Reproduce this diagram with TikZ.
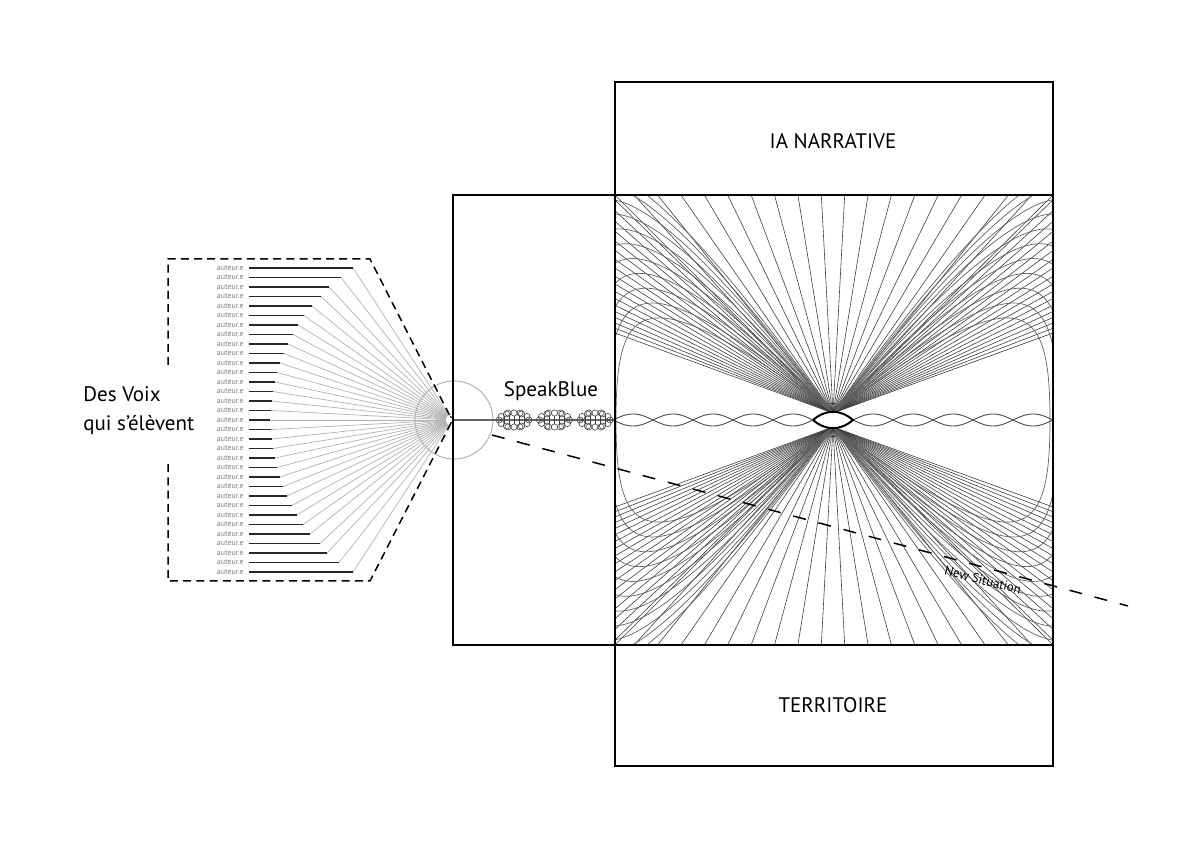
\documentclass[tikz,border=0pt]{standalone}
\usepackage{fontspec}
\setmainfont{PT Sans}
\begin{document}
\begin{tikzpicture}[x=0.5pt,y=-0.5pt,
  frame/.style={line width=0.6pt, draw=black},
  fanline/.style={line width=0.3pt, draw=black!75},
  arcline/.style={line width=0.35pt, draw=black!62},
  wave/.style={line width=0.45pt, draw=black!70},
  greyfan/.style={line width=0.35pt, draw=black!30},
  blackbar/.style={line width=0.8pt, draw=black!85},
  autlab/.style={text=black!50, font=\fontsize{3.9}{4}\selectfont, inner sep=0pt, anchor=east},
  dpoly/.style={line width=0.75pt, draw=black, dash pattern=on 4pt off 2.6pt},
  dline/.style={line width=0.75pt, draw=black, dash pattern=on 6.5pt off 6.5pt},
  bead/.style={line width=0.3pt, draw=black!75},
  lab/.style={font=\fontsize{10.5}{12}\selectfont, inner sep=0pt}]
\useasboundingbox (0,0) rectangle (1200,849);
\fill[white] (0,0) rectangle (1200,849);

% ---------- key points ----------
\coordinate (Ct) at (833,413);
\coordinate (Cb) at (833,427);
\coordinate (F) at (452,420);
\coordinate (ds) at (492,435);
\coordinate (de) at (1128,606);

% ---------- right diagram: fan lines ----------
\foreach \j in {0,...,8}{
  \pgfmathsetmacro{\dx}{11.7+23.4*\j}
  \draw[fanline] (Ct) -- ({833-\dx},195);
  \draw[fanline] (Ct) -- ({833+\dx},195);
  \draw[fanline] (Cb) -- ({833-\dx},645);
  \draw[fanline] (Cb) -- ({833+\dx},645);
}
\foreach \i in {0,...,17}{
  \pgfmathsetmacro{\yy}{333-(4.6*\i+0.19*\i*\i)}
  \pgfmathsetmacro{\yb}{840-\yy}
  \draw[fanline] (Ct) -- (615,\yy);
  \draw[fanline] (Ct) -- (1053,\yy);
  \draw[fanline] (Cb) -- (615,\yb);
  \draw[fanline] (Cb) -- (1053,\yb);
}
\draw[fanline] (Ct) -- (615,195);
\draw[fanline] (Ct) -- (1053,195);
\draw[fanline] (Cb) -- (615,645);
\draw[fanline] (Cb) -- (1053,645);

% ---------- right diagram: arcs ----------
\begin{scope}
\clip (615,195) rectangle (1053,645);
\foreach \k in {0,...,10}{
  \pgfmathsetmacro{\sx}{1+0.038*\k}
  \pgfmathsetmacro{\sy}{1+0.156*\k}
  \begin{scope}[shift={(Ct)}, xscale=\sx, yscale=\sy]
    \draw[arcline] (-217,7) .. controls (-217,-115) and (-190,-140) .. (0,0);
  \end{scope}
  \begin{scope}[shift={(Ct)}, xscale=-\sx, yscale=\sy]
    \draw[arcline] (-217,7) .. controls (-217,-115) and (-190,-140) .. (0,0);
  \end{scope}
  \begin{scope}[shift={(Cb)}, xscale=\sx, yscale=-\sy]
    \draw[arcline] (-217,7) .. controls (-217,-115) and (-190,-140) .. (0,0);
  \end{scope}
  \begin{scope}[shift={(Cb)}, xscale=-\sx, yscale=-\sy]
    \draw[arcline] (-217,7) .. controls (-217,-115) and (-190,-140) .. (0,0);
  \end{scope}
}
% waves
\draw[wave] plot[domain=615:813, samples=160] (\x,{420+6*sin(4.5*(\x-813))});
\draw[wave] plot[domain=615:813, samples=160] (\x,{420-6*sin(4.5*(\x-813))});
\draw[wave] plot[domain=853:1053, samples=160] (\x,{420+6*sin(4.5*(\x-853))});
\draw[wave] plot[domain=853:1053, samples=160] (\x,{420-6*sin(4.5*(\x-853))});
\end{scope}
% central lens
\draw[line width=1pt, fill=white] (813,420) .. controls (826,409) and (840,409) .. (853,420)
  .. controls (840,431) and (826,431) .. (813,420);

% ---------- left fan of voices ----------
\foreach \i/\xe in {0/353,1/341,2/329,3/321,4/312,5/304,6/298,7/293,8/288,9/284,10/280,11/277,12/275,13/273,14/272,15/271,16/270,
  17/271,18/272,19/273,20/275,21/277,22/280,23/283,24/287,25/292,26/297,27/303,28/310,29/320,30/327,31/339,32/353}{
  \pgfmathsetmacro{\yy}{268+9.5*\i}
  \draw[greyfan] (\xe,\yy) -- (F);
  \draw[blackbar] (249,\yy) -- (\xe,\yy);
  \node[autlab] (aut\i) at (244,\yy) {auteur.e};
}
\fill[white] (F) circle (6);
\draw[black!30, line width=0.5pt] (454,420) circle (39);
\draw[black!85, line width=0.6pt] (450,416.5) .. controls (455,417.5) and (455,422.5) .. (450,423.5);

% dashed hexagon
\draw[dpoly] (168,365) -- (168,259) -- (370,259) -- (451,418);
\draw[dpoly] (451,423) -- (370,581) -- (168,581) -- (168,462);

% ---------- SpeakBlue line and beads ----------
\draw[line width=0.9pt, draw=black!60] (F) -- (615,420);
\foreach \cx in {514,554.5,595}{
  \foreach \o in {-10,-5,0,5,10}{
    \draw[bead] ({\cx+\o},416) -- ({\cx+\o},424);
  }
  \foreach \a in {0,30,...,330}{
    \draw[bead] ({\cx+15*cos(\a)},{420+7*sin(\a)}) circle (3.1);
  }
  \foreach \o in {-6,6}{
    \draw[bead] ({\cx+\o},413) circle (3.1);
    \draw[bead] ({\cx+\o},427) circle (3.1);
  }
}

% ---------- frames ----------
\draw[frame] (615,82) rectangle (1053,766);
\draw[frame] (453,195) rectangle (1053,645);

% ---------- dashed "New Situation" line ----------
\draw[dline] (ds) -- (de);

% ---------- labels ----------
\node[lab, anchor=base west] (voix1) at (83,402) {Des Voix};
\node[lab, anchor=base west] (voix2) at (83,431) {qui s'élèvent};
\node[lab, anchor=base] (speak) at (551,397) {SpeakBlue};
\node[lab, anchor=base] (ia) at (833,149) {IA NARRATIVE};
\node[lab, anchor=base] (terr) at (833,713) {TERRITOIRE};
\node[font=\fontsize{6.5}{7}\selectfont, inner sep=0pt, rotate=-15] (newsit) at (983,580) {New Situation};
\end{tikzpicture}
\end{document}
